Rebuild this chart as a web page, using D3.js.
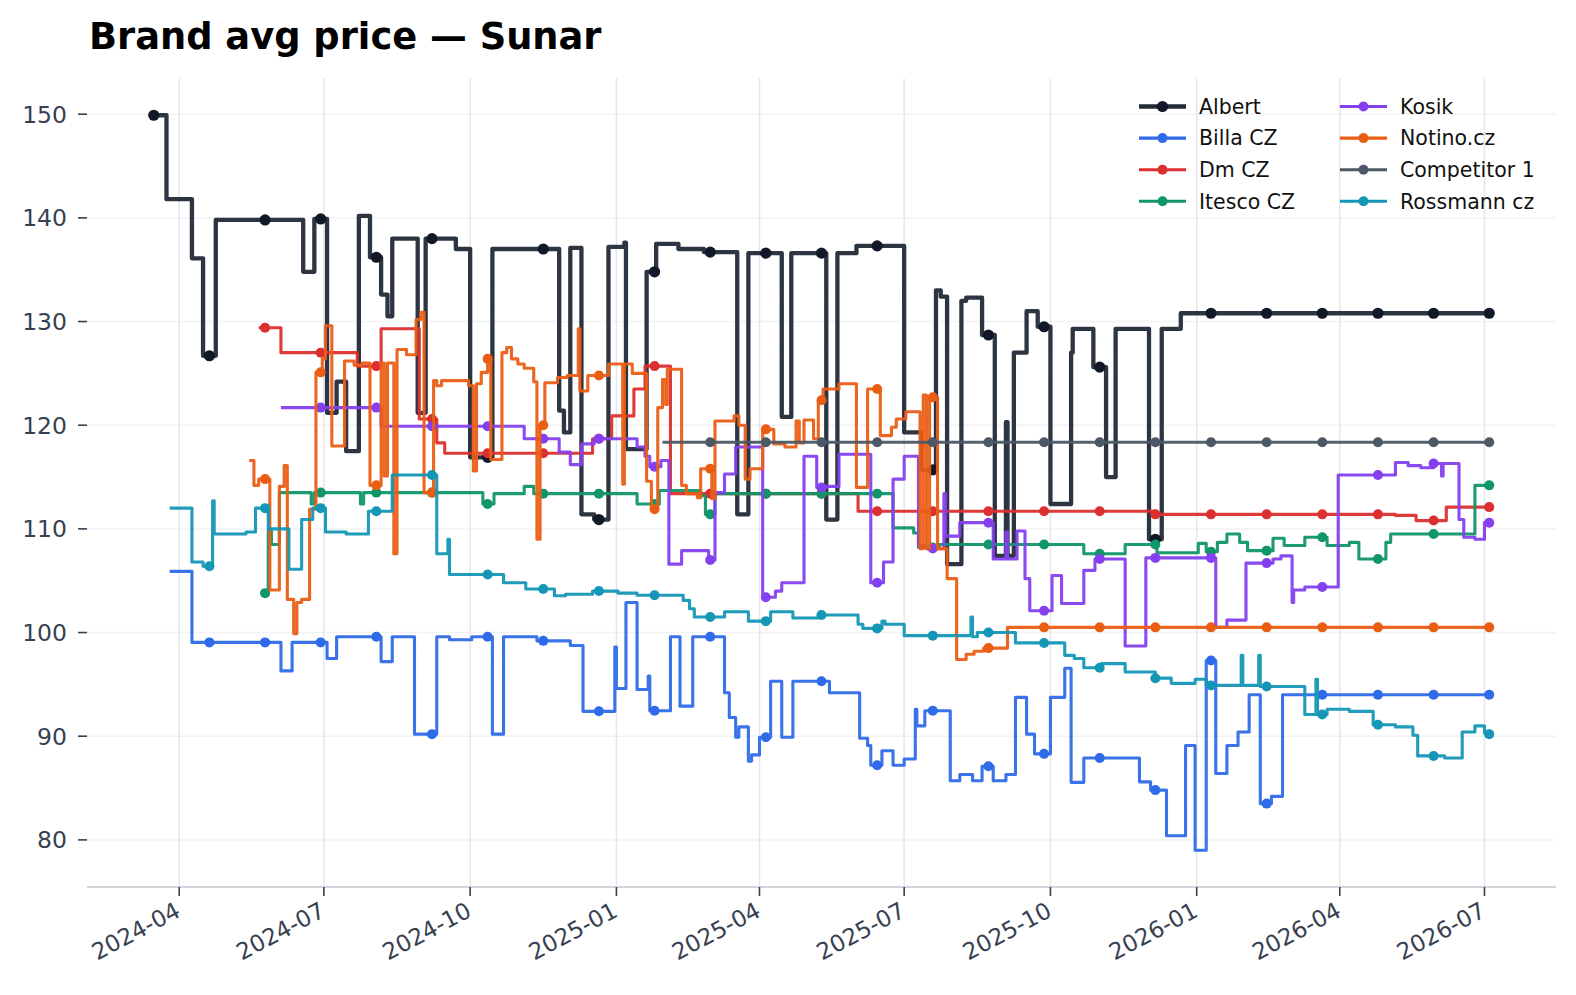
<!DOCTYPE html>
<html>
<head>
<meta charset="utf-8">
<script src="https://cdn.jsdelivr.net/npm/d3@7"></script>
<style>
  body { margin: 0; background: #fff; }
  text { font-family: "DejaVu Sans", sans-serif; }
</style>
</head>
<body>
<svg id="chart" width="1576" height="995"></svg>
<script>
const width = 1576;
const height = 995;

// step change points [date, price]
const albert = [
  ["2024-03-16",149.9],["2024-03-24",141.8],["2024-04-09",136.1],["2024-04-16",126.7],["2024-04-24",139.8],
  ["2024-06-18",134.8],["2024-06-25",139.9],["2024-07-03",121.2],["2024-07-09",124.2],["2024-07-15",117.5],
  ["2024-07-23",140.2],["2024-07-30",136.2],["2024-08-06",132.6],["2024-08-10",130.5],["2024-08-13",138.0],
  ["2024-08-29",121.2],["2024-09-03",138.0],["2024-09-22",137.0],["2024-10-01",116.9],["2024-10-15",137.0],
  ["2024-11-26",121.4],["2024-11-29",119.3],["2024-12-03",137.1],["2024-12-10",111.4],["2024-12-18",110.9],
  ["2024-12-27",137.2],["2025-01-06",137.6],["2025-01-07",117.7],["2025-01-20",134.8],["2025-01-26",137.5],
  ["2025-02-09",137.0],["2025-02-25",136.7],["2025-03-18",111.4],["2025-03-25",136.6],["2025-04-15",120.8],
  ["2025-04-21",136.6],["2025-05-13",110.9],["2025-05-20",136.6],["2025-06-01",137.3],["2025-07-01",119.3],
  ["2025-07-12",115.7],["2025-07-21",133.0],["2025-07-24",132.4],["2025-07-28",106.6],["2025-08-06",132.0],
  ["2025-08-09",132.3],["2025-08-19",128.7],["2025-08-27",107.4],["2025-09-03",120.3],["2025-09-04",107.4],
  ["2025-09-08",127.0],["2025-09-16",131.0],["2025-09-23",129.5],["2025-10-01",112.4],["2025-10-14",127.0],
  ["2025-10-15",129.3],["2025-10-28",125.6],["2025-11-05",115.0],["2025-11-11",129.3],["2025-12-02",109.0],
  ["2025-12-10",129.3],["2025-12-22",130.8],["2026-07-04",130.8]
];
const billa = [
  ["2024-03-26",105.9],["2024-04-09",99.05],["2024-06-04",96.3],["2024-06-11",99.05],["2024-07-03",97.5],
  ["2024-07-09",99.6],["2024-08-06",97.2],["2024-08-13",99.6],["2024-08-27",90.2],["2024-09-10",99.6],
  ["2024-09-18",99.3],["2024-10-02",99.6],["2024-10-15",90.2],["2024-10-22",99.6],["2024-11-12",99.2],
  ["2024-12-03",98.75],["2024-12-11",92.4],["2024-12-31",98.6],["2025-01-01",94.6],["2025-01-07",102.9],
  ["2025-01-14",94.5],["2025-01-21",95.8],["2025-01-22",92.45],["2025-02-04",99.6],["2025-02-10",92.9],
  ["2025-02-18",99.6],["2025-03-10",94.2],["2025-03-13",91.8],["2025-03-17",89.9],["2025-03-19",90.9],
  ["2025-03-25",87.6],["2025-03-27",88.2],["2025-04-01",89.9],["2025-04-08",95.3],["2025-04-15",89.9],
  ["2025-04-22",95.3],["2025-05-15",94.2],["2025-06-03",89.8],["2025-06-08",89.1],["2025-06-10",87.2],
  ["2025-06-17",88.6],["2025-06-24",87.2],["2025-07-01",87.8],["2025-07-08",92.6],["2025-07-09",91.0],
  ["2025-07-14",92.45],["2025-07-30",85.7],["2025-08-05",86.3],["2025-08-13",85.7],["2025-08-19",87.1],
  ["2025-08-26",85.7],["2025-09-03",86.3],["2025-09-09",93.75],["2025-09-16",90.2],["2025-09-21",88.3],
  ["2025-10-01",93.75],["2025-10-10",96.55],["2025-10-14",85.55],["2025-10-22",87.9],["2025-11-26",85.6],
  ["2025-12-03",84.8],["2025-12-13",80.4],["2025-12-25",89.1],["2025-12-31",79.0],["2026-01-07",97.3],
  ["2026-01-13",86.4],["2026-01-20",89.1],["2026-01-27",90.4],["2026-02-03",94.0],["2026-02-10",83.5],
  ["2026-02-17",84.2],["2026-02-24",94.0],["2026-07-04",94.0]
];
const dmCz = [
  ["2024-05-21",129.4],["2024-06-04",127.0],["2024-07-22",125.7],["2024-08-06",129.3],["2024-08-30",120.6],
  ["2024-09-10",118.3],["2024-09-15",117.3],["2024-12-17",118.7],["2024-12-29",120.9],["2025-01-12",123.5],
  ["2025-01-19",125.7],["2025-02-04",113.4],["2025-06-02",111.7],["2025-12-06",111.4],["2026-05-06",111.3],
  ["2026-05-19",110.8],["2026-06-07",112.1],["2026-07-04",112.1]
];
const itesco = [
  ["2024-05-25",103.8],["2024-05-27",109.8],["2024-05-29",108.5],["2024-06-03",113.5],["2024-06-23",112.4],
  ["2024-06-25",113.5],["2024-07-24",112.4],["2024-07-26",113.5],["2024-10-09",112.4],["2024-10-16",113.4],
  ["2024-11-04",114.1],["2024-11-10",113.4],["2025-01-14",112.4],["2025-01-28",113.7],["2025-02-23",113.2],
  ["2025-02-26",111.4],["2025-03-04",113.4],["2025-06-24",110.1],["2025-07-07",109.6],["2025-07-10",108.2],
  ["2025-07-23",108.5],["2025-10-22",107.6],["2025-11-17",108.5],["2025-12-07",107.7],["2026-01-02",108.6],
  ["2026-01-07",107.8],["2026-01-14",108.7],["2026-01-20",109.5],["2026-01-28",108.7],["2026-02-02",107.9],
  ["2026-02-18",109.1],["2026-02-25",108.4],["2026-03-10",109.2],["2026-03-24",108.4],["2026-04-07",108.7],
  ["2026-04-13",107.1],["2026-04-30",108.7],["2026-05-03",109.5],["2026-06-25",114.2],["2026-07-04",114.2]
];
const kosik = [
  ["2024-06-04",121.7],["2024-08-06",119.9],["2024-11-04",118.7],["2024-11-26",117.4],["2024-12-03",116.2],
  ["2024-12-10",118.2],["2024-12-18",118.7],["2025-01-14",117.9],["2025-01-19",117.0],["2025-01-22",116.0],
  ["2025-01-29",116.6],["2025-02-03",106.6],["2025-02-11",107.9],["2025-02-28",107.0],["2025-03-04",113.5],
  ["2025-03-10",115.3],["2025-03-17",117.9],["2025-04-03",103.4],["2025-04-11",104.0],["2025-04-15",104.8],
  ["2025-04-29",117.0],["2025-05-07",114.0],["2025-05-13",114.1],["2025-05-21",117.2],["2025-06-10",104.8],
  ["2025-06-18",106.8],["2025-06-24",114.8],["2025-07-01",117.0],["2025-07-10",108.4],["2025-07-15",108.1],
  ["2025-07-26",113.4],["2025-07-27",109.3],["2025-08-05",110.6],["2025-08-26",107.1],["2025-09-03",109.7],
  ["2025-09-04",107.1],["2025-09-10",109.8],["2025-09-15",105.2],["2025-09-18",102.1],["2025-10-02",105.5],
  ["2025-10-08",102.8],["2025-10-22",106.0],["2025-10-29",107.1],["2025-11-17",98.7],["2025-11-30",107.2],
  ["2026-01-13",100.5],["2026-01-20",101.2],["2026-02-01",106.7],["2026-02-18",107.1],["2026-02-23",107.4],
  ["2026-03-02",102.9],["2026-03-03",104.1],["2026-03-10",104.4],["2026-03-31",115.2],["2026-05-06",116.4],
  ["2026-05-14",116.1],["2026-05-22",115.9],["2026-05-30",116.3],["2026-06-04",115.1],["2026-06-05",116.3],
  ["2026-06-15",110.9],["2026-06-18",109.2],["2026-06-25",109.0],["2026-07-01",110.6],["2026-07-04",110.6]
];
const notino = [
  ["2024-05-15",116.6],["2024-05-18",114.2],["2024-05-21",114.8],["2024-05-28",104.1],["2024-06-03",114.1],
  ["2024-06-06",116.1],["2024-06-08",103.2],["2024-06-12",99.9],["2024-06-14",102.9],["2024-06-17",103.2],
  ["2024-06-22",111.9],["2024-06-26",125.1],["2024-06-30",126.4],["2024-07-02",129.6],["2024-07-06",118.0],
  ["2024-07-14",126.2],["2024-07-20",125.8],["2024-07-25",126.0],["2024-07-30",114.2],["2024-08-06",126.0],
  ["2024-08-08",115.1],["2024-08-10",126.0],["2024-08-14",107.6],["2024-08-16",127.3],["2024-08-22",126.8],
  ["2024-08-28",130.2],["2024-08-31",130.9],["2024-09-02",113.5],["2024-09-08",124.3],["2024-09-10",123.8],
  ["2024-09-13",124.3],["2024-09-30",123.8],["2024-10-03",115.6],["2024-10-05",124.0],["2024-10-08",125.1],
  ["2024-10-12",126.4],["2024-10-14",116.7],["2024-10-21",127.0],["2024-10-24",127.5],["2024-10-27",126.4],
  ["2024-10-31",125.9],["2024-11-04",125.5],["2024-11-10",124.2],["2024-11-12",109.0],["2024-11-14",120.0],
  ["2024-11-17",124.1],["2024-11-25",124.6],["2024-12-01",124.8],["2024-12-08",129.3],["2024-12-09",123.3],
  ["2024-12-14",124.8],["2024-12-27",125.9],["2025-01-05",114.3],["2025-01-06",125.9],["2025-01-11",125.0],
  ["2025-01-20",114.6],["2025-01-23",111.9],["2025-01-27",121.7],["2025-01-30",124.4],["2025-02-01",122.0],
  ["2025-02-02",125.4],["2025-02-11",114.2],["2025-02-14",113.4],["2025-02-21",113.0],["2025-02-23",115.8],
  ["2025-03-02",112.9],["2025-03-04",120.4],["2025-03-16",120.9],["2025-03-19",120.0],["2025-03-23",114.8],
  ["2025-03-26",115.8],["2025-04-03",119.6],["2025-04-10",118.2],["2025-04-17",117.9],["2025-04-24",120.4],
  ["2025-04-26",118.3],["2025-04-29",120.5],["2025-05-05",118.7],["2025-05-08",122.4],["2025-05-11",123.5],
  ["2025-05-21",124.0],["2025-06-01",114.0],["2025-06-08",123.5],["2025-06-16",119.0],["2025-06-23",119.8],
  ["2025-06-26",120.6],["2025-07-02",121.3],["2025-07-11",108.1],["2025-07-13",122.9],["2025-07-15",108.1],
  ["2025-07-17",122.7],["2025-07-22",108.1],["2025-07-28",105.2],["2025-08-03",97.4],["2025-08-09",97.9],
  ["2025-08-14",98.2],["2025-08-20",98.5],["2025-09-04",100.5],["2026-07-04",100.5]
];
const competitor1 = [
  ["2025-01-30",118.35],["2026-07-04",118.35]
];
const rossmann = [
  ["2024-03-26",112.0],["2024-04-09",106.8],["2024-04-16",106.4],["2024-04-22",112.7],["2024-04-23",109.5],
  ["2024-05-13",109.7],["2024-05-19",112.0],["2024-05-27",110.0],["2024-06-09",106.1],["2024-06-17",110.9],
  ["2024-06-24",112.0],["2024-07-02",109.7],["2024-07-15",109.5],["2024-07-29",111.7],["2024-08-13",115.2],
  ["2024-09-10",107.6],["2024-09-17",109.0],["2024-09-18",105.6],["2024-10-22",104.8],["2024-11-05",104.2],
  ["2024-11-23",103.55],["2024-11-30",103.7],["2024-12-17",104.0],["2025-01-02",103.8],["2025-01-14",103.6],
  ["2025-02-12",103.1],["2025-02-16",102.3],["2025-02-19",101.5],["2025-03-10",102.0],["2025-03-25",101.1],
  ["2025-04-08",102.0],["2025-04-22",101.4],["2025-05-08",101.7],["2025-06-02",100.8],["2025-06-05",100.4],
  ["2025-06-17",101.1],["2025-06-19",100.8],["2025-07-01",99.7],["2025-08-12",101.5],["2025-08-13",99.6],
  ["2025-08-16",100.0],["2025-09-09",99.0],["2025-10-10",97.8],["2025-10-16",97.5],["2025-10-22",96.6],
  ["2025-11-02",97.0],["2025-11-17",96.2],["2025-12-06",95.6],["2025-12-16",95.1],["2025-12-31",95.5],
  ["2026-01-07",94.9],["2026-01-29",97.8],["2026-01-30",94.9],["2026-02-09",97.8],["2026-02-10",94.8],
  ["2026-03-10",92.1],["2026-03-17",95.5],["2026-03-18",92.1],["2026-03-24",92.6],["2026-04-07",92.4],
  ["2026-04-22",91.1],["2026-05-06",90.9],["2026-05-17",90.1],["2026-05-20",88.1],["2026-06-06",87.9],
  ["2026-06-17",90.4],["2026-06-25",91.0],["2026-07-01",90.3],["2026-07-04",90.2]
];

const seriesNames = ["Albert", "Billa CZ", "Dm CZ", "Itesco CZ", "Kosik", "Notino.cz", "Competitor 1", "Rossmann cz"];
const seriesData = [albert, billa, dmCz, itesco, kosik, notino, competitor1, rossmann];
const colors = ["#232a38", "#2f6be8", "#dc2f2f", "#109668", "#8440ee", "#ea5e14", "#4d5866", "#1496b6"];
const yTicks = [80, 90, 100, 110, 120, 130, 140, 150];

// markers sit on a fixed 35 day grid
const markerStart = "2024-03-16";
const markerStep = 35;

const parse = d3.timeParse("%Y-%m-%d");
const series = seriesNames.map((name, i) => ({
  name: name,
  color: colors[i],
  points: seriesData[i].map(d => ({date: parse(d[0]), value: d[1]}))
}));

const margin = {top: 78.5, right: 20, bottom: 108, left: 87};
const svg = d3.select("#chart");

const allPts = series.flatMap(s => s.points);
const xMin = d3.min(allPts, d => d.date), xMax = d3.max(allPts, d => d.date);
const padDays = (xMax - xMin) * 0.05;
const yMin = d3.min(allPts, d => d.value), yMax = d3.max(allPts, d => d.value);
const padY = (yMax - yMin) * 0.05;

const x = d3.scaleTime()
  .domain([new Date(+xMin - padDays), new Date(+xMax + padDays)])
  .range([margin.left, width - margin.right]);
const y = d3.scaleLinear()
  .domain([yMin - padY, yMax + padY])
  .range([height - margin.bottom, margin.top]);

const plotBottom = height - margin.bottom;
const xTicks = x.ticks(d3.timeMonth.every(3));

// grid
svg.append("g").selectAll("line")
  .data(yTicks).join("line")
  .attr("x1", margin.left).attr("x2", width - margin.right)
  .attr("y1", d => y(d)).attr("y2", d => y(d))
  .attr("stroke", "#f1f2f4").attr("stroke-width", 1.5);
svg.append("g").selectAll("line")
  .data(xTicks).join("line")
  .attr("x1", d => x(d)).attr("x2", d => x(d))
  .attr("y1", margin.top).attr("y2", plotBottom)
  .attr("stroke", "#e4e6ea").attr("stroke-width", 1.5);

// bottom spine
svg.append("line")
  .attr("x1", margin.left).attr("x2", width - margin.right)
  .attr("y1", plotBottom).attr("y2", plotBottom)
  .attr("stroke", "#d1d5db").attr("stroke-width", 1.8);

// y axis ticks + labels
const yAx = svg.append("g");
yAx.selectAll("line").data(yTicks).join("line")
  .attr("x1", margin.left - 9).attr("x2", margin.left)
  .attr("y1", d => y(d)).attr("y2", d => y(d))
  .attr("stroke", "#374151").attr("stroke-width", 1.6);
yAx.selectAll("text").data(yTicks).join("text")
  .attr("x", margin.left - 20).attr("y", d => y(d))
  .attr("dy", "0.36em").attr("text-anchor", "end")
  .attr("font-size", 23.5).attr("fill", "#374151")
  .text(d => d);

// x axis ticks + labels
const xAx = svg.append("g");
const fmt = d3.timeFormat("%Y-%m");
xAx.selectAll("line").data(xTicks).join("line")
  .attr("x1", d => x(d)).attr("x2", d => x(d))
  .attr("y1", plotBottom).attr("y2", plotBottom + 9)
  .attr("stroke", "#374151").attr("stroke-width", 1.6);
xAx.selectAll("text").data(xTicks).join("text")
  .attr("transform", d => `translate(${x(d) - 5},${plotBottom + 14}) rotate(-28)`)
  .attr("dy", "0.72em").attr("text-anchor", "end")
  .attr("font-size", 23).attr("fill", "#374151")
  .text(d => fmt(d));

// lines
const line = d3.line()
  .x(d => x(d.date))
  .y(d => y(d.value))
  .curve(d3.curveStepAfter);

const gridStart = parse(markerStart);
function valueAt(pts, date) {
  const i = d3.bisector(d => d.date).right(pts, date) - 1;
  return i >= 0 ? pts[i].value : null;
}

series.forEach((s, i) => {
  const thick = i === 0;
  svg.append("path")
    .datum(s.points)
    .attr("d", line)
    .attr("fill", "none")
    .attr("stroke", s.color)
    .attr("stroke-width", thick ? 4.3 : 3.1)
    .attr("stroke-linejoin", "round")
    .attr("opacity", 0.95);

  const first = s.points[0].date, last = s.points[s.points.length - 1].date;
  const marks = [];
  for (let k = 0; ; k++) {
    const d = d3.timeDay.offset(gridStart, k * markerStep);
    if (d > last) break;
    if (d >= first) marks.push({date: d, value: valueAt(s.points, d)});
  }
  svg.append("g").selectAll("circle")
    .data(marks).join("circle")
    .attr("cx", d => x(d.date))
    .attr("cy", d => y(d.value))
    .attr("r", thick ? 5.6 : 5)
    .attr("fill", thick ? "#111827" : s.color);
});

// legend
const legend = svg.append("g");
series.forEach((s, i) => {
  const col = Math.floor(i / 4), row = i % 4;
  const lx = 1139 + col * 201, ly = 106.5 + row * 31.6;
  const g = legend.append("g").attr("transform", `translate(${lx},${ly})`);
  g.append("line").attr("x1", 0).attr("x2", 47).attr("y1", 0).attr("y2", 0)
    .attr("stroke", s.color).attr("stroke-width", i === 0 ? 4.3 : 3.1);
  g.append("circle").attr("cx", 23.5).attr("cy", 0).attr("r", i === 0 ? 5.6 : 5)
    .attr("fill", i === 0 ? "#111827" : s.color);
  g.append("text").attr("x", 60).attr("y", 0).attr("dy", "0.36em")
    .attr("font-size", 20.5).attr("fill", "#111").text(s.name);
});

// title
svg.append("text")
  .attr("x", 89).attr("y", 49)
  .attr("font-size", 36.8).attr("font-weight", "bold").attr("fill", "#000")
  .text("Brand avg price — Sunar");
</script>
</body>
</html>
